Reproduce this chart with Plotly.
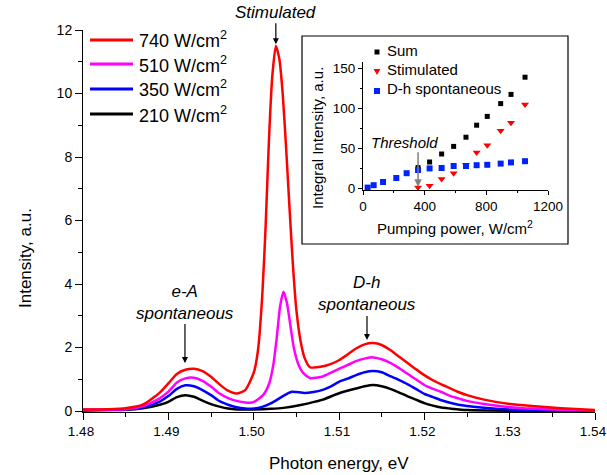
import plotly.graph_objects as go

# ---------------- main spectra data ----------------
e_740 = [1.480, 1.483, 1.485, 1.487, 1.489, 1.490, 1.491, 1.492, 1.493, 1.494, 1.495, 1.496,
         1.497, 1.498, 1.499, 1.5000, 1.5005, 1.5010, 1.5014, 1.5018, 1.5022, 1.5026, 1.5030,
         1.5034, 1.5038, 1.5042, 1.5046, 1.5050, 1.5055, 1.5060, 1.5066, 1.508, 1.509, 1.510,
         1.511, 1.512, 1.513, 1.514, 1.515, 1.516, 1.517, 1.518, 1.519, 1.520, 1.521, 1.522,
         1.523, 1.524, 1.525, 1.527, 1.530, 1.533, 1.536, 1.540]
i_740 = [0.05, 0.06, 0.09, 0.20, 0.58, 0.87, 1.17, 1.30, 1.33, 1.26, 1.08, 0.84,
         0.64, 0.55, 0.66, 1.20, 1.90, 3.6, 5.8, 8.6, 10.6, 11.5, 11.1,
         10.0, 8.3, 6.4, 4.6, 3.2, 2.2, 1.65, 1.38, 1.40, 1.48, 1.60,
         1.78, 1.97, 2.10, 2.14, 2.08, 1.92, 1.72, 1.52, 1.32, 1.13, 0.97, 0.84,
         0.72, 0.60, 0.50, 0.36, 0.22, 0.15, 0.09, 0.03]

e_510 = [1.480, 1.483, 1.485, 1.487, 1.489, 1.490, 1.491, 1.492, 1.493, 1.494, 1.495, 1.496,
         1.497, 1.498, 1.499, 1.500, 1.5011, 1.5018, 1.5023, 1.5027, 1.5031, 1.5035, 1.5039,
         1.5043, 1.5047, 1.5052, 1.5058, 1.5066, 1.508, 1.509, 1.510, 1.511, 1.512, 1.513,
         1.514, 1.515, 1.516, 1.517, 1.518, 1.519, 1.520, 1.521, 1.522, 1.523, 1.524, 1.525,
         1.527, 1.530, 1.533, 1.536, 1.540]
i_510 = [0.04, 0.05, 0.06, 0.15, 0.40, 0.61, 0.90, 1.03, 1.05, 0.95, 0.77, 0.55,
         0.41, 0.32, 0.27, 0.28, 0.50, 0.85, 1.45, 2.30, 3.30, 3.76, 3.40,
         2.70, 2.00, 1.50, 1.20, 1.04, 1.08, 1.20, 1.33, 1.45, 1.57, 1.65,
         1.69, 1.63, 1.52, 1.36, 1.18, 1.00, 0.82, 0.70, 0.60, 0.48, 0.40, 0.32,
         0.22, 0.12, 0.07, 0.04, 0.02]

e_350 = [1.480, 1.483, 1.485, 1.487, 1.489, 1.490, 1.491, 1.492, 1.493, 1.494, 1.495, 1.496,
         1.497, 1.498, 1.499, 1.500, 1.501, 1.502, 1.503, 1.504, 1.5045, 1.505, 1.506, 1.507,
         1.508, 1.509, 1.510, 1.511, 1.512, 1.513, 1.514, 1.515, 1.516, 1.517, 1.518, 1.519,
         1.520, 1.521, 1.522, 1.523, 1.524, 1.525, 1.527, 1.530, 1.533, 1.536, 1.540]
i_350 = [0.03, 0.04, 0.05, 0.12, 0.30, 0.47, 0.70, 0.81, 0.78, 0.66, 0.50, 0.31,
         0.20, 0.12, 0.08, 0.08, 0.13, 0.24, 0.40, 0.56, 0.61, 0.60, 0.57, 0.60,
         0.66, 0.77, 0.92, 1.02, 1.13, 1.22, 1.26, 1.22, 1.10, 0.98, 0.85, 0.70,
         0.54, 0.44, 0.34, 0.26, 0.20, 0.16, 0.10, 0.05, 0.03, 0.02, 0.01]

e_210 = [1.480, 1.483, 1.485, 1.487, 1.489, 1.490, 1.491, 1.492, 1.493, 1.494, 1.495, 1.496,
         1.497, 1.498, 1.500, 1.502, 1.5035, 1.5055, 1.508, 1.510, 1.512, 1.513, 1.514, 1.515,
         1.516, 1.517, 1.518, 1.519, 1.520, 1.521, 1.522, 1.523, 1.525, 1.530, 1.540]
i_210 = [0.02, 0.03, 0.04, 0.09, 0.20, 0.29, 0.44, 0.50, 0.45, 0.33, 0.22, 0.14,
         0.08, 0.05, 0.05, 0.07, 0.10, 0.19, 0.35, 0.56, 0.71, 0.78, 0.82, 0.78,
         0.70, 0.59, 0.47, 0.36, 0.25, 0.17, 0.11, 0.08, 0.03, 0.01, 0.01]

series_names = ["740 W/cm<sup>2</sup>", "510 W/cm<sup>2</sup>", "350 W/cm<sup>2</sup>", "210 W/cm<sup>2</sup>"]
series_colors = ["#ff0000", "#ff00ff", "#0000ff", "#000000"]

# ---------------- inset data ----------------
p_sum = [357, 432, 510, 588, 668, 737, 806, 893, 960, 1051]
v_sum = [26, 33, 43, 52.5, 64, 79, 90, 106, 117.5, 139]
p_stim = [357, 432, 510, 588, 668, 737, 806, 893, 960, 1051]
v_stim = [1.2, 3.3, 11.7, 18.8, 29.6, 45, 54, 72, 82, 105]
p_dh = [30, 69, 130, 216, 283, 357, 432, 510, 588, 668, 737, 806, 893, 960, 1051]
v_dh = [1, 4, 8, 13, 19, 23, 25, 25.5, 28, 28, 29, 29.5, 31, 32.5, 34]
threshold_power = 357

FONT = "Liberation Sans, Arial, sans-serif"

# geometry helpers (pixel -> paper)
L, R, T, B = 83, 12, 30, 63
W, H = 607, 475
PW, PH = W - L - R, H - T - B
def px(x):
    return (x - L) / PW
def py(y):
    return (H - B - y) / PH

fig = go.Figure()

for e, i, c in [(e_210, i_210, series_colors[3]), (e_350, i_350, series_colors[2]),
                (e_510, i_510, series_colors[1]), (e_740, i_740, series_colors[0])]:
    fig.add_trace(go.Scatter(x=e, y=i, mode="lines", line=dict(color=c, width=2.5, shape="spline", smoothing=0.6),
                             showlegend=False, hoverinfo="skip"))

# inset traces
fig.add_trace(go.Scatter(x=p_sum, y=v_sum, mode="markers", xaxis="x2", yaxis="y2",
                         marker=dict(symbol="square", size=5, color="#000000"), showlegend=False))
fig.add_trace(go.Scatter(x=p_stim, y=v_stim, mode="markers", xaxis="x2", yaxis="y2",
                         marker=dict(symbol="triangle-down", size=7, color="#ff0000", line=dict(width=0)), showlegend=False))
fig.add_trace(go.Scatter(x=p_dh, y=v_dh, mode="markers", xaxis="x2", yaxis="y2",
                         marker=dict(symbol="square", size=6, color="#0022ff"), showlegend=False))

shapes = []
annotations = []

# inset frame
shapes.append(dict(type="rect", xref="paper", yref="paper", x0=px(302), x1=px(568), y0=py(244), y1=py(36),
                   line=dict(color="black", width=1.2), fillcolor="white", layer="below"))

# main legend (manual)
leg_y = [40, 64, 89, 114]
for name, col, yy in zip(series_names, series_colors, leg_y):
    shapes.append(dict(type="line", xref="paper", yref="paper", x0=px(90), x1=px(133), y0=py(yy), y1=py(yy),
                       line=dict(color=col, width=3)))
    annotations.append(dict(xref="paper", yref="paper", x=px(137), y=py(yy), text=name, showarrow=False,
                            xanchor="left", yanchor="middle", font=dict(family=FONT, size=18, color="black")))

# inset legend (manual)
def sq(cx, cy, s, col):
    return dict(type="rect", xref="paper", yref="paper", x0=px(cx - s / 2), x1=px(cx + s / 2),
                y0=py(cy + s / 2), y1=py(cy - s / 2), fillcolor=col, line=dict(width=0))
shapes.append(sq(377, 52, 5, "#000000"))
shapes.append(dict(type="path", xref="paper", yref="paper",
                   path=f"M {px(373.5)},{py(69)} L {px(380.5)},{py(69)} L {px(377)},{py(75)} Z",
                   fillcolor="#ff0000", line=dict(width=0)))
shapes.append(sq(377, 91, 6, "#0022ff"))
for txt, yy in [("Sum", 50), ("Stimulated", 69.5), ("D-h spontaneous", 89)]:
    annotations.append(dict(xref="paper", yref="paper", x=px(385), y=py(yy), text=txt, showarrow=False,
                            xanchor="left", yanchor="middle", font=dict(family=FONT, size=15, color="black")))

# axis titles
annotations.append(dict(xref="paper", yref="paper", x=px(339), y=py(463), text="Photon energy, eV", showarrow=False,
                        xanchor="center", yanchor="middle", font=dict(family=FONT, size=17, color="black")))
annotations.append(dict(xref="paper", yref="paper", x=px(25), y=py(258), text="Intensity, a.u.", showarrow=False,
                        textangle=-90, xanchor="center", yanchor="middle", font=dict(family=FONT, size=17, color="black")))
annotations.append(dict(xref="paper", yref="paper", x=px(455), y=py(227), text="Pumping power, W/cm<sup>2</sup>",
                        showarrow=False, xanchor="center", yanchor="middle", font=dict(family=FONT, size=15, color="black")))
annotations.append(dict(xref="paper", yref="paper", x=px(317), y=py(138), text="Integral Intensity, a.u.",
                        showarrow=False, textangle=-90, xanchor="center", yanchor="middle",
                        font=dict(family=FONT, size=15, color="black")))

# peak labels with arrows
afont = dict(family=FONT, size=17, color="black")
annotations.append(dict(x=1.5026, y=11.55, xref="x", yref="y", text="<i>Stimulated</i>", showarrow=True,
                        ax=0, ay=-32, arrowhead=2, arrowsize=1, arrowwidth=1.2, arrowcolor="black", font=afont))
annotations.append(dict(x=1.49195, y=1.51, xref="x", yref="y", text="<i>e-A</i><br><i>spontaneous</i>", showarrow=True,
                        ax=0, ay=-61, arrowhead=2, arrowsize=1, arrowwidth=1.2, arrowcolor="black", font=afont))
annotations.append(dict(x=1.51328, y=2.24, xref="x", yref="y", text="<i>D-h</i><br><i>spontaneous</i>", showarrow=True,
                        ax=0, ay=-46, arrowhead=2, arrowsize=1, arrowwidth=1.2, arrowcolor="black", font=afont))

# threshold in inset
annotations.append(dict(x=threshold_power, y=2, xref="x2", yref="y2", text="", showarrow=True,
                        ax=0, ay=-36, arrowhead=2, arrowsize=1, arrowwidth=1.5, arrowcolor="#808080"))
annotations.append(dict(x=266, y=58, xref="x2", yref="y2", text="<i>Threshold</i>", showarrow=False,
                        xanchor="center", yanchor="middle", font=dict(family=FONT, size=15, color="black")))

fig.update_layout(
    width=W, height=H, autosize=False,
    margin=dict(l=L, r=R, t=T, b=B, autoexpand=False),
    paper_bgcolor="white", plot_bgcolor="white",
    font=dict(family=FONT, color="black"),
    shapes=shapes, annotations=annotations,
    xaxis=dict(range=[1.48, 1.54], dtick=0.01, tick0=1.48, tickformat=".2f", showgrid=False, zeroline=False,
               automargin=False, ticklabeloverflow="allow", ticklabelshift=-2,
               showline=True, linecolor="black", linewidth=1, ticks="outside", ticklen=7, tickcolor="black",
               tickfont=dict(size=13.5, family=FONT), anchor="y",
               minor=dict(dtick=0.005, tick0=1.48, ticks="outside", ticklen=4, tickcolor="black", showgrid=False)),
    yaxis=dict(range=[-0.03, 12], dtick=2, tick0=0, showgrid=False, zeroline=False, automargin=False,
               ticklabeloverflow="allow",
               showline=True, linecolor="black", linewidth=1, ticks="outside", ticklen=7, tickcolor="black",
               tickfont=dict(size=14, family=FONT), anchor="x",
               minor=dict(dtick=1, tick0=0, ticks="outside", ticklen=4, tickcolor="black", showgrid=False)),
    xaxis2=dict(domain=[px(363), px(548)], range=[0, 1200], dtick=400, tick0=0, anchor="y2", showgrid=False,
                zeroline=False, automargin=False, showline=True, linecolor="black", linewidth=1, ticks="outside", ticklen=4,
                tickcolor="black", tickfont=dict(size=13.5, family=FONT),
                minor=dict(dtick=200, tick0=0, ticks="outside", ticklen=2, tickcolor="black", showgrid=False)),
    yaxis2=dict(domain=[py(190), py(62)], range=[-2, 158], dtick=50, tick0=0, anchor="x2", showgrid=False,
                zeroline=False, automargin=False, showline=True, linecolor="black", linewidth=1, ticks="outside", ticklen=4,
                tickcolor="black", tickfont=dict(size=13.5, family=FONT),
                minor=dict(dtick=25, tick0=0, ticks="outside", ticklen=2, tickcolor="black", showgrid=False)),
)

fig.write_html("out.html")
